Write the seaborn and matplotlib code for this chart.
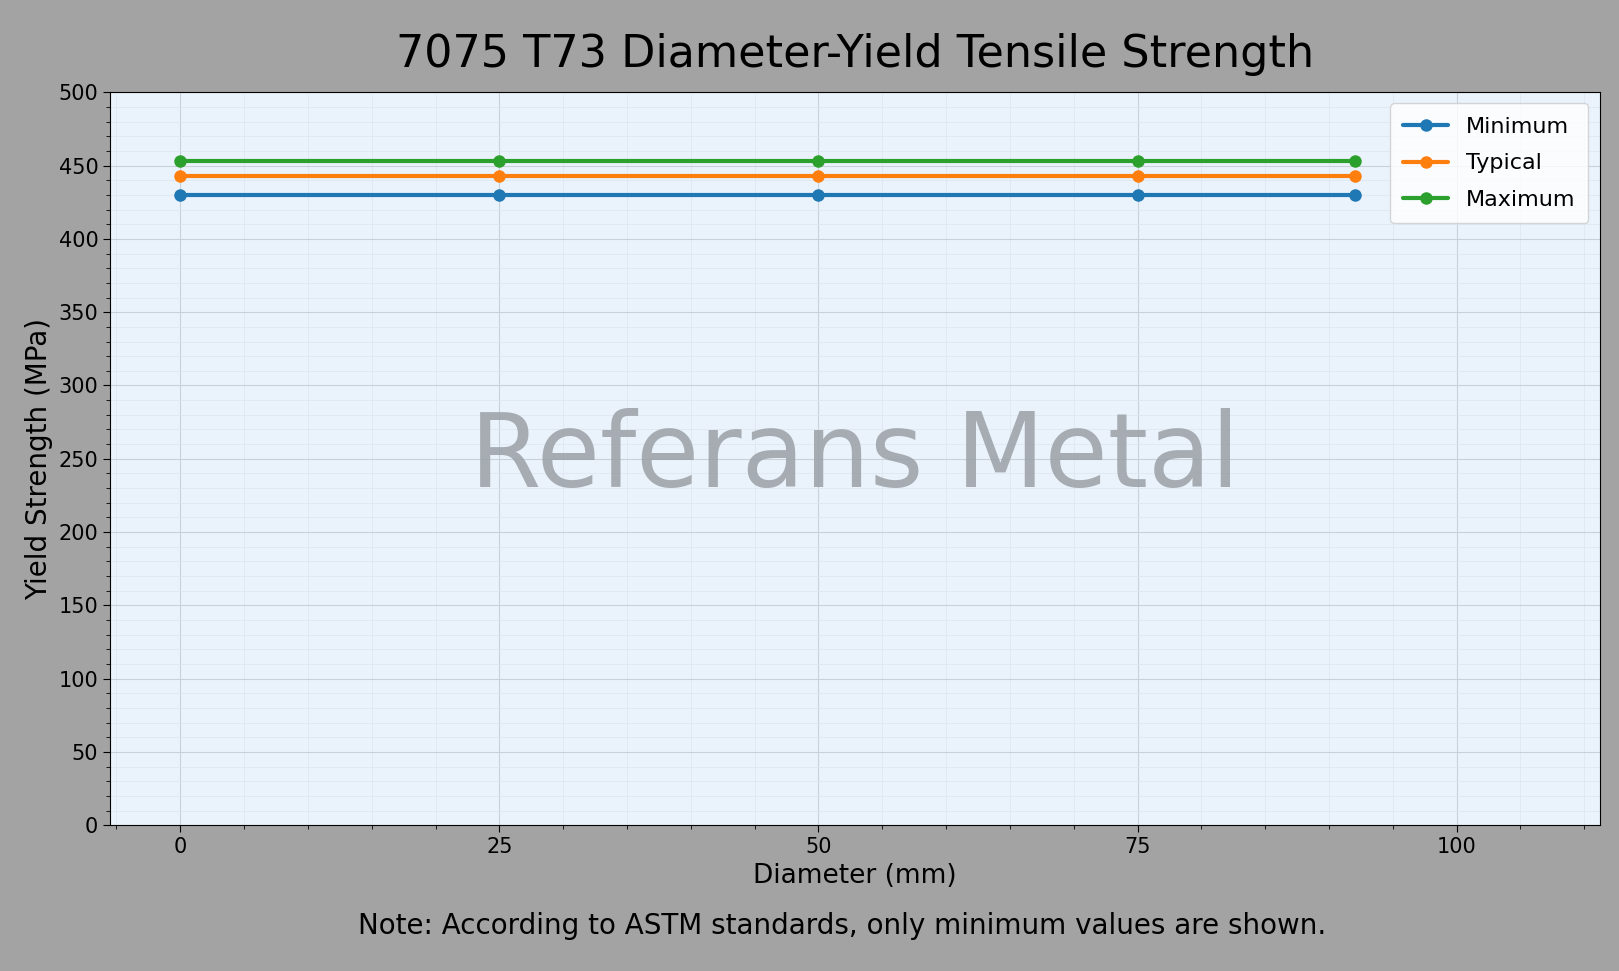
import matplotlib
matplotlib.use("Agg")
import matplotlib.pyplot as plt
import seaborn as sns
import pandas as pd
from matplotlib.ticker import AutoMinorLocator

# chart data
diameters = [0, 25, 50, 75, 92]
minimum = [430, 430, 430, 430, 430]
typical = [443, 443, 443, 443, 443]
maximum = [453, 453, 453, 453, 453]
series_names = ["Minimum", "Typical", "Maximum"]
series_colors = ["#1f77b4", "#ff7f0e", "#2ca02c"]

df = pd.DataFrame({"Diameter": diameters * 3,
                   "Value": minimum + typical + maximum,
                   "Series": [s for s in series_names for _ in diameters]})

sns.set_style("whitegrid")
plt.rcParams['font.family'] = ['DejaVu Sans']
plt.rcParams['text.color'] = 'black'
plt.rcParams['axes.labelcolor'] = 'black'
plt.rcParams['xtick.color'] = 'black'
plt.rcParams['ytick.color'] = 'black'

fig, ax = plt.subplots(figsize=(16.19, 9.71), dpi=100)
fig.patch.set_facecolor("#a3a3a3")
ax.set_facecolor("#eaf3fb")

sns.lineplot(data=df, x="Diameter", y="Value", hue="Series", palette=series_colors,
             marker="o", markersize=9, markeredgewidth=0, linewidth=3, ax=ax)

ax.set_xlim(-5.5, 111.2)
ax.set_ylim(0, 500)
ax.set_xticks([0, 25, 50, 75, 100])
ax.set_yticks(range(0, 501, 50))
ax.xaxis.set_minor_locator(AutoMinorLocator(5))
ax.yaxis.set_minor_locator(AutoMinorLocator(5))
ax.grid(True, which="major", color="#c8d0d8", linewidth=0.8)
ax.grid(True, which="minor", color="#dde6ee", linewidth=0.5)
ax.tick_params(axis="both", which="major", labelsize=15, length=5, bottom=True, left=True)
ax.tick_params(axis="both", which="minor", length=3, bottom=True, left=True)
for sp in ax.spines.values():
    sp.set_color("black")
    sp.set_linewidth(0.8)

ax.set_title("7075 T73 Diameter-Yield Tensile Strength", fontsize=32, pad=18)
ax.set_xlabel("Diameter (mm)", fontsize=19)
ax.set_ylabel("Yield Strength (MPa)", fontsize=20)

ax.text(0.5, 0.5, "Referans Metal", transform=ax.transAxes, fontsize=74,
        color="#9aa0a6", alpha=0.85, ha="center", va="center")

leg = ax.legend(loc="upper right", fontsize=16, frameon=True, title=None,
                labelspacing=0.75, borderpad=0.6)
leg.get_frame().set_facecolor("white")

fig.text(0.52, 0.038, "Note: According to ASTM standards, only minimum values are shown.",
         ha="center", fontsize=20)

plt.subplots_adjust(left=0.068, right=0.988, top=0.905, bottom=0.15)
plt.savefig("out.png", dpi=100, facecolor=fig.get_facecolor())
